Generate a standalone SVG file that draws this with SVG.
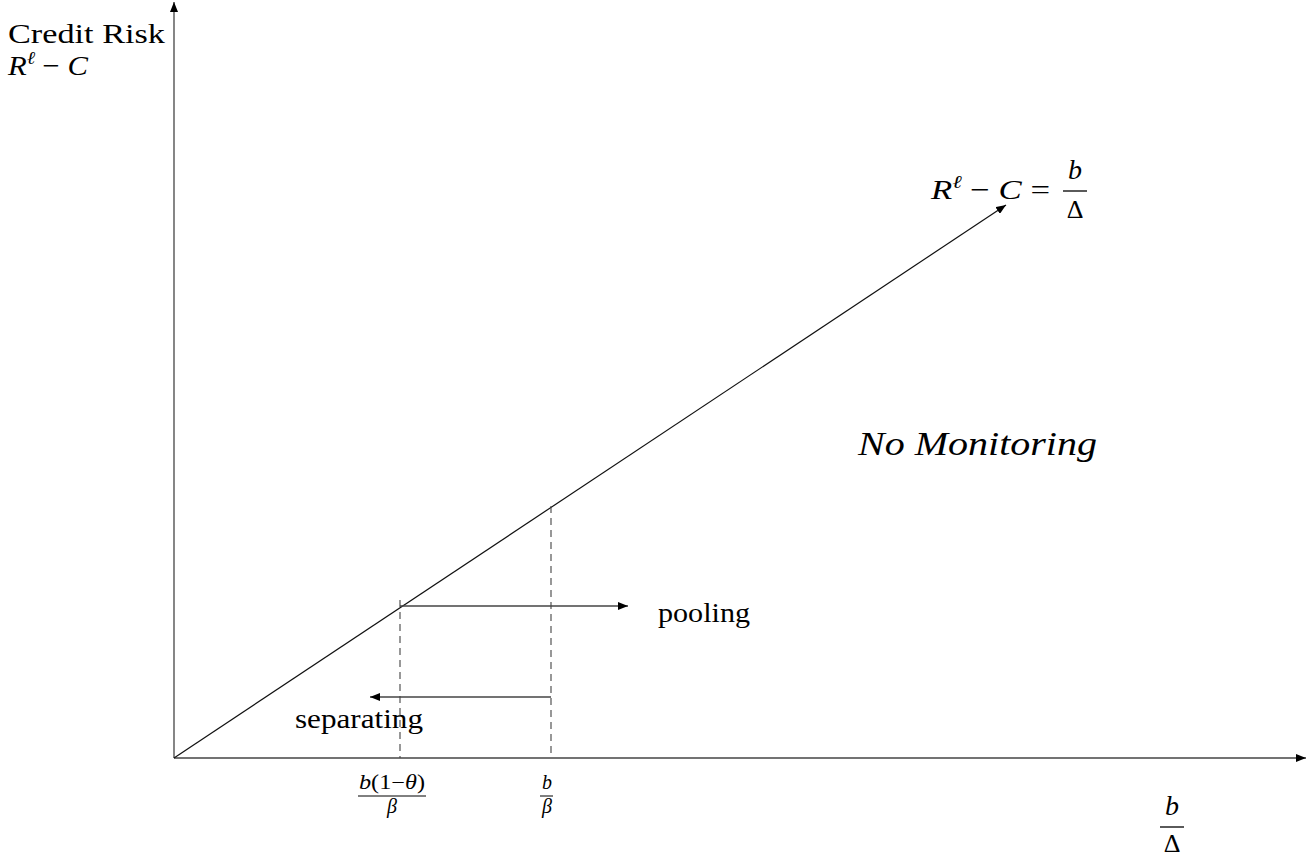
<svg xmlns="http://www.w3.org/2000/svg" width="1308" height="859" viewBox="0 0 1308 859">
<style>
text{font-family:"Liberation Serif","DejaVu Serif",serif;fill:#000}
.ax{stroke:#444;stroke-width:1.3;fill:none}
.ln{stroke:#111;stroke-width:1.2;fill:none}
.dash{stroke:#444;stroke-width:1.1;stroke-dasharray:7,5;fill:none}
.it{font-style:italic}
</style>
<defs>
<marker id="ah" viewBox="0 0 10 8" refX="10" refY="4" markerWidth="10" markerHeight="8" markerUnits="userSpaceOnUse" orient="auto">
<path d="M0,0 L10,4 L0,8 Z" fill="#000"/>
</marker>
</defs>
<rect width="1308" height="859" fill="#fff"/>
<g id="connectors">
<line class="ax" x1="174" y1="758" x2="174" y2="2" marker-end="url(#ah)"/>
<line class="ax" x1="174" y1="758" x2="1306" y2="758" marker-end="url(#ah)"/>
<line class="ln" x1="174" y1="758" x2="1006" y2="205" marker-end="url(#ah)"/>
<line class="dash" x1="400" y1="600" x2="400" y2="758"/>
<line class="dash" x1="551" y1="506" x2="551" y2="758"/>
<line class="ax" x1="400" y1="606" x2="628" y2="606" marker-end="url(#ah)"/>
<line class="ax" x1="551" y1="697" x2="370" y2="697" marker-end="url(#ah)"/>
</g>
<g id="ylabel">
<text x="8" y="43" font-size="28" textLength="157" lengthAdjust="spacingAndGlyphs">Credit Risk</text>
<text x="8" y="75" font-size="28" textLength="80" lengthAdjust="spacingAndGlyphs"><tspan class="it">R</tspan><tspan class="it" font-size="18" dy="-11">ℓ</tspan><tspan dy="11"> − </tspan><tspan class="it">C</tspan></text>
</g>
<g id="line-label">
<text x="931" y="199" font-size="28" textLength="119" lengthAdjust="spacingAndGlyphs"><tspan class="it">R</tspan><tspan class="it" font-size="18" dy="-11">ℓ</tspan><tspan dy="11"> − </tspan><tspan class="it">C</tspan> =</text>
<text x="1075" y="179" font-size="28" class="it" text-anchor="middle">b</text>
<line x1="1063" y1="191" x2="1087" y2="191" stroke="#000" stroke-width="1.3"/>
<text x="1075" y="218" font-size="26" text-anchor="middle">Δ</text>
</g>
<g id="no-monitoring">
<text x="858" y="455" font-size="33" class="it" textLength="239" lengthAdjust="spacingAndGlyphs">No Monitoring</text>
</g>
<g id="pooling">
<text x="658" y="622" font-size="27" textLength="92" lengthAdjust="spacingAndGlyphs">pooling</text>
</g>
<g id="separating">
<text x="295" y="728" font-size="27" textLength="128" lengthAdjust="spacingAndGlyphs">separating</text>
</g>
<g id="tick1">
<text x="392" y="789" font-size="20" text-anchor="middle" textLength="66" lengthAdjust="spacingAndGlyphs"><tspan class="it">b</tspan>(1−<tspan class="it">θ</tspan>)</text>
<line x1="358" y1="796" x2="426" y2="796" stroke="#000" stroke-width="1"/>
<text x="392" y="813" font-size="20" class="it" text-anchor="middle">β</text>
</g>
<g id="tick2">
<text x="547" y="789" font-size="20" class="it" text-anchor="middle">b</text>
<line x1="540" y1="796" x2="553" y2="796" stroke="#000" stroke-width="1"/>
<text x="547" y="813" font-size="20" class="it" text-anchor="middle">β</text>
</g>
<g id="xlabel">
<text x="1172" y="815" font-size="28" class="it" text-anchor="middle">b</text>
<line x1="1160" y1="827" x2="1184" y2="827" stroke="#000" stroke-width="1.3"/>
<text x="1172" y="852" font-size="26" text-anchor="middle">Δ</text>
</g>
</svg>
